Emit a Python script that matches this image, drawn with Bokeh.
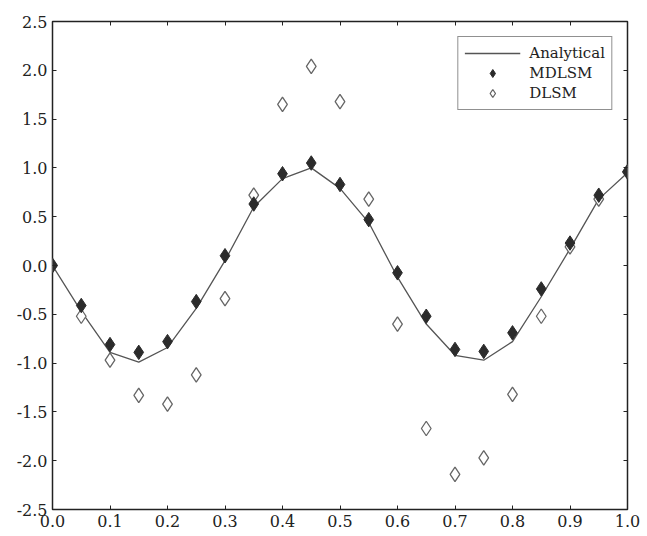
from bokeh.plotting import figure
from bokeh.models import (Range1d, FixedTicker, PrintfTickFormatter, LinearAxis,
                          CustomJSTickFormatter, Legend, LegendItem)
from bokeh.embed import file_html
from bokeh.resources import INLINE

x_vals = [0.0, 0.05, 0.1, 0.15, 0.2, 0.25, 0.3, 0.35, 0.4, 0.45, 0.5,
          0.55, 0.6, 0.65, 0.7, 0.75, 0.8, 0.85, 0.9, 0.95, 1.0]
analytical = [0.00, -0.47, -0.89, -0.99, -0.84, -0.44, 0.05, 0.60, 0.89, 1.00, 0.79,
              0.44, -0.12, -0.60, -0.92, -0.97, -0.78, -0.32, 0.17, 0.68, 0.95]
mdlsm = [0.00, -0.41, -0.81, -0.89, -0.78, -0.37, 0.10, 0.63, 0.94, 1.05, 0.83,
         0.47, -0.075, -0.52, -0.86, -0.88, -0.69, -0.24, 0.23, 0.72, 0.96]
dlsm = [0.00, -0.52, -0.97, -1.33, -1.42, -1.12, -0.34, 0.72, 1.65, 2.04, 1.68,
        0.68, -0.60, -1.67, -2.14, -1.97, -1.32, -0.52, 0.19, 0.68, 0.96]
x_ticks = [0.0, 0.1, 0.2, 0.3, 0.4, 0.5, 0.6, 0.7, 0.8, 0.9, 1.0]
y_ticks = [-2.5, -2.0, -1.5, -1.0, -0.5, 0.0, 0.5, 1.0, 1.5, 2.0, 2.5]

FONT = "DejaVu Serif"
INK = "#222222"

p = figure(width=645, height=534, output_backend="svg", toolbar_location=None,
           x_range=Range1d(0, 1), y_range=Range1d(-2.5, 2.5),
           min_border_left=52, min_border_right=18, min_border_top=21,
           min_border_bottom=25)
p.xgrid.visible = False
p.ygrid.visible = False
p.background_fill_color = "white"
p.border_fill_color = "white"
p.outline_line_color = INK
p.outline_line_width = 1.5

for ax, ticks in ((p.xaxis[0], x_ticks), (p.yaxis[0], y_ticks)):
    ax.ticker = FixedTicker(ticks=ticks)
    ax.formatter = PrintfTickFormatter(format="%.1f")
    ax.axis_line_color = None
    ax.major_tick_in = 4
    ax.major_tick_out = 0
    ax.minor_tick_line_color = None
    ax.major_tick_line_color = INK
    ax.major_label_text_font = FONT
    ax.major_label_text_font_size = "16px"
    ax.major_label_text_color = INK
    ax.major_label_standoff = 5

for loc, ticks in (("above", x_ticks), ("right", y_ticks)):
    ax = LinearAxis(ticker=FixedTicker(ticks=ticks),
                    formatter=CustomJSTickFormatter(code="return ''"),
                    axis_line_color=None, major_tick_in=4, major_tick_out=0,
                    minor_tick_line_color=None, major_tick_line_color=INK,
                    major_label_standoff=0, major_label_text_font_size="1px")
    p.add_layout(ax, loc)

r_line = p.line(x_vals, analytical, line_color="#555555", line_width=1.3)
r_d = p.scatter(x_vals, dlsm, marker="diamond", size=14.5,
                fill_color="white", line_color="#666666", line_width=1.3)
r_m = p.scatter(x_vals, mdlsm, marker="diamond", size=14.5,
                fill_color="#2b2b2b", line_color="#2b2b2b", line_width=1.0)

legend = Legend(items=[LegendItem(label="Analytical", renderers=[r_line]),
                       LegendItem(label="MDLSM", renderers=[r_m]),
                       LegendItem(label="DLSM", renderers=[r_d])],
                location="top_right", margin=15, padding=6, spacing=0,
                glyph_width=56, glyph_height=20, label_height=20,
                label_standoff=9, label_text_font=FONT,
                label_text_font_size="15px", label_text_color=INK,
                border_line_color=INK, border_line_width=1,
                background_fill_color="white", background_fill_alpha=1)
p.add_layout(legend)

open("out.html", "w").write(file_html(p, INLINE))
